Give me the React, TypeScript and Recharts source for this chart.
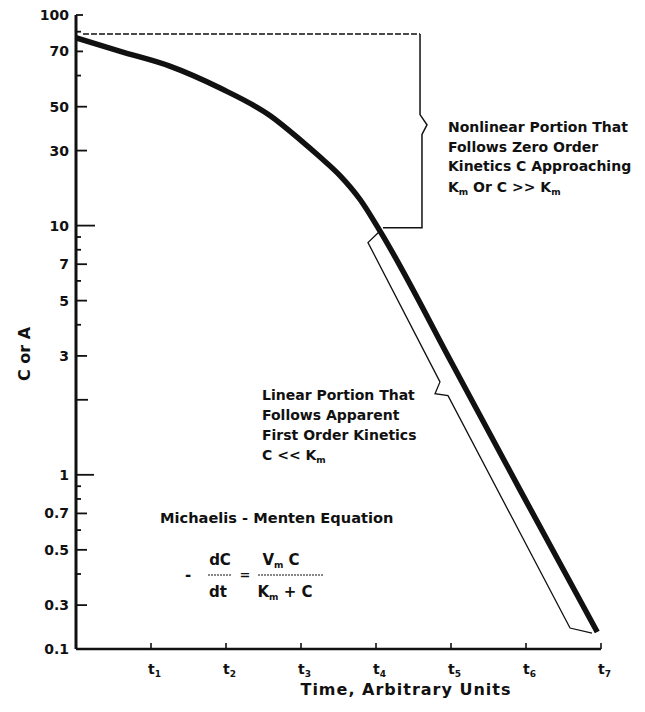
import React from 'react';
import { LineChart, Line, XAxis, YAxis } from 'recharts';

// Y axis: printed labels and where each sits on the log ruler of the drawing
const yTickLabels = [0.1, 0.3, 0.5, 0.7, 1, 3, 5, 7, 10, 30, 50, 70, 100];
const yTickRuler = [0.2, 0.3, 0.5, 0.7, 1, 3, 5, 7, 10, 20, 30, 50, 70];
const yMinorRuler = [0.4, 0.6, 0.8, 0.9, 2, 4, 6, 8, 9, 40, 60];

// X axis
const xTickValues = [1, 2, 3, 4, 5, 6, 7];
const xTickSubscripts = ['1', '2', '3', '4', '5', '6', '7'];

// Curve (time in t-units, C)
const time = [0, 0.59, 1.25, 1.92, 2.59, 2.99, 3.25, 3.52, 3.79, 4.05, 5.03, 5.92, 6.95];
const concentration = [80, 70, 64, 56, 45, 34, 27.4, 20.8, 14.6, 9.55, 2.74, 0.87, 0.153];

// Annotation brackets (time, C)
const zeroOrderTopT = [0.093, 4.587];
const zeroOrderTopC = [83, 83];
const zeroOrderBracketT = [4.587, 4.587, 4.68, 4.613, 4.613, 4.093];
const zeroOrderBracketC = [83, 45.6, 40.5, 36.2, 9.8, 9.8];
const firstOrderBracketT = [4.067, 3.893, 4.853, 4.787, 4.96, 6.587, 6.88];
const firstOrderBracketC = [9.6, 8.55, 2.36, 2.115, 2.077, 0.169, 0.149];

function toRuler(v: number): number {
  const L = yTickLabels;
  const R = yTickRuler;
  let i = 0;
  while (i < L.length - 2 && v > L[i + 1]) i++;
  const f = Math.log(v / L[i]) / Math.log(L[i + 1] / L[i]);
  return R[i] * Math.pow(R[i + 1] / R[i], f);
}

const rows = (ts: number[], cs: number[]) => ts.map((t, i) => ({ t, c: cs[i], y: toRuler(cs[i]) }));

const curveData = rows(time, concentration);
const topData = rows(zeroOrderTopT, zeroOrderTopC);
const zeroData = rows(zeroOrderBracketT, zeroOrderBracketC);
const firstData = rows(firstOrderBracketT, firstOrderBracketC);

const allYTicks = [...yTickRuler, ...yMinorRuler].sort((a, b) => a - b);

const FONT = '"DejaVu Sans", sans-serif';
const INK = '#111';

const YTick = (props: any) => {
  const { x, y, payload } = props;
  const v = payload.value;
  const idx = yTickRuler.findIndex((r) => Math.abs(r - v) < 1e-9);
  const label = idx >= 0 ? String(yTickLabels[idx]) : null;
  let len = 5;
  if (label) len = 11;
  if (label && v >= 50) len = 7;
  if (v === 10) len = 19;
  if (v === 1) len = 18;
  if (v === 2) len = 12;
  return (
    <g>
      <line x1={x} x2={x + len} y1={y} y2={y} stroke={INK} strokeWidth={1.8} />
      {label && (
        <text x={x - 7} y={y + 5} textAnchor="end" fontFamily={FONT} fontWeight="bold" fontSize={14} fill={INK}>
          {label}
        </text>
      )}
    </g>
  );
};

const XTick = (props: any) => {
  const { x, y, payload } = props;
  const i = xTickValues.indexOf(payload.value);
  return (
    <g>
      <line x1={x} x2={x} y1={y} y2={y - 6} stroke={INK} strokeWidth={1.6} />
      <text x={x - 3} y={y + 25} fontFamily={FONT} fontWeight="bold" fontSize={14} fill={INK}>
        t
        <tspan dy={3} fontSize={9}>
          {xTickSubscripts[i]}
        </tspan>
      </text>
    </g>
  );
};

const txt = { fontFamily: FONT, fontWeight: 'bold' as const, fontSize: 14, fill: INK };

const Sub = ({ children }: { children: string }) => (
  <tspan dy={3} fontSize={9}>
    {children}
  </tspan>
);

export default function App() {
  return (
    <div style={{ position: 'absolute', left: 0, top: 0, width: 645, height: 712, background: '#fff' }}>
      <LineChart width={645} height={712} margin={{ top: 15, right: 44, bottom: 33, left: 16 }}>
        <XAxis
          dataKey="t"
          type="number"
          domain={[0, 7]}
          ticks={xTickValues}
          allowDataOverflow
          height={30}
          axisLine={{ stroke: INK, strokeWidth: 2.5 }}
          tickLine={false}
          tickSize={0}
          tickMargin={0}
          tick={<XTick />}
          interval={0}
        />
        <YAxis
          type="number"
          scale="log"
          domain={[0.2, 70]}
          ticks={allYTicks}
          allowDataOverflow
          width={60}
          axisLine={{ stroke: INK, strokeWidth: 3 }}
          tickLine={false}
          tickSize={0}
          tickMargin={0}
          tick={<YTick />}
          interval={0}
        />
        <Line
          data={topData}
          dataKey="y"
          type="linear"
          stroke={INK}
          strokeWidth={1.3}
          strokeDasharray="6 2"
          dot={false}
          isAnimationActive={false}
        />
        <Line data={zeroData} dataKey="y" type="linear" stroke={INK} strokeWidth={1.5} dot={false} isAnimationActive={false} />
        <Line data={firstData} dataKey="y" type="linear" stroke={INK} strokeWidth={1.3} dot={false} isAnimationActive={false} />
        <Line
          data={curveData}
          dataKey="y"
          type="monotone"
          stroke={INK}
          strokeWidth={5.5}
          dot={false}
          isAnimationActive={false}
        />
      </LineChart>
      <svg width={645} height={712} style={{ position: 'absolute', left: 0, top: 0, pointerEvents: 'none' }}>
        <text transform="translate(30,354) rotate(-90)" textAnchor="middle" {...txt} fontSize={16}>
          C or A
        </text>
        <text x={406} y={695} textAnchor="middle" {...txt} fontSize={16} letterSpacing={1}>
          Time, Arbitrary Units
        </text>

        <text x={448} y={132} {...txt}>Nonlinear Portion That</text>
        <text x={448} y={152} {...txt}>Follows Zero Order</text>
        <text x={448} y={171} {...txt}>Kinetics C Approaching</text>
        <text x={448} y={192} {...txt}>
          K<Sub>m</Sub>
          <tspan dy={-3}> Or C &gt;&gt; K</tspan>
          <Sub>m</Sub>
        </text>

        <text x={262} y={400} {...txt}>Linear Portion That</text>
        <text x={262} y={420} {...txt}>Follows Apparent</text>
        <text x={262} y={440} {...txt}>First Order Kinetics</text>
        <text x={262} y={460} {...txt}>
          C &lt;&lt; K<Sub>m</Sub>
        </text>

        <text x={160} y={523} {...txt} fontSize={14.6}>Michaelis - Menten Equation</text>

        <text x={188} y={580} textAnchor="middle" {...txt} fontSize={15}>-</text>
        <text x={220} y={565} textAnchor="middle" {...txt} fontSize={15}>dC</text>
        <line x1={208} x2={232} y1={575} y2={575} stroke={INK} strokeWidth={1} strokeDasharray="2 1" />
        <text x={218} y={597} textAnchor="middle" {...txt} fontSize={15}>dt</text>
        <text x={245} y={579} textAnchor="middle" {...txt} fontSize={13}>=</text>
        <text x={281} y={565} textAnchor="middle" {...txt} fontSize={15}>
          V<Sub>m</Sub>
          <tspan dy={-3}> C</tspan>
        </text>
        <line x1={258} x2={323} y1={575} y2={575} stroke={INK} strokeWidth={1} strokeDasharray="2 1" />
        <text x={285} y={597} textAnchor="middle" {...txt} fontSize={15}>
          K<Sub>m</Sub>
          <tspan dy={-3}> + C</tspan>
        </text>
      </svg>
    </div>
  );
}
